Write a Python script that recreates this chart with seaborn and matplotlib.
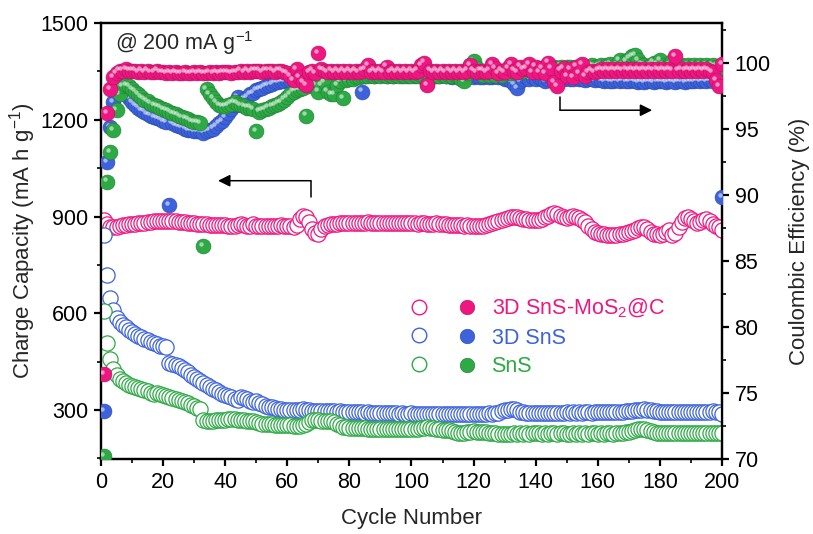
import numpy as np
import pandas as pd
import matplotlib
matplotlib.use('Agg')
import matplotlib.pyplot as plt
import seaborn as sns
from matplotlib.lines import Line2D
from matplotlib.ticker import MultipleLocator
from matplotlib.transforms import ScaledTranslation

# --- data (cycle 1..200) ---
cycles = list(range(1, 201))

cap_mc = [888, 876, 866, 866, 869, 871, 873, 874, 876, 877,
          878, 879, 880, 881, 882, 884, 885, 886, 886, 887,
          887, 886, 886, 885, 884, 883, 882, 881, 880, 879,
          878, 877, 876, 876, 875, 875, 874, 874, 873, 873,
          872, 872, 871, 873, 878, 874, 872, 871, 877, 872,
          871, 870, 871, 872, 871, 870, 871, 873, 872, 871,
          870, 869, 874, 893, 902, 899, 884, 861, 850, 847,
          862, 870, 874, 876, 878, 878, 879, 880, 880, 881,
          881, 880, 879, 880, 881, 882, 881, 880, 881, 880,
          881, 880, 879, 880, 881, 880, 879, 880, 881, 880,
          879, 878, 879, 880, 878, 877, 878, 879, 877, 876,
          876, 875, 874, 875, 874, 873, 872, 873, 872, 871,
          870, 871, 872, 874, 876, 879, 883, 887, 890, 893,
          896, 898, 899, 897, 895, 893, 891, 890, 889, 888,
          889, 892, 897, 903, 909, 911, 907, 902, 898, 896,
          899, 902, 900, 896, 890, 882, 872, 862, 853, 848,
          846, 845, 844, 843, 842, 843, 845, 847, 849, 851,
          854, 858, 863, 868, 866, 860, 852, 847, 845, 844,
          846, 852, 858, 842, 848, 866, 882, 895, 899, 893,
          886, 880, 882, 888, 891, 886, 878, 871, 866, 858]

cap_3d = [843, 718, 648, 610, 586, 574, 565, 556, 548, 541,
          535, 530, 525, 520, 516, 512, 508, 504, 500, 497,
          495, 447, 442, 440, 436, 431, 425, 418, 410, 403,
          396, 390, 384, 378, 372, 366, 361, 356, 351, 347,
          343, 339, 335, 332, 340, 336, 333, 329, 326, 327,
          322, 318, 313, 310, 308, 305, 303, 302, 301, 301,
          300, 300, 299, 300, 302, 300, 299, 298, 298, 297,
          297, 298, 296, 297, 296, 295, 296, 295, 294, 295,
          294, 293, 294, 293, 292, 293, 292, 291, 292, 291,
          291, 290, 291, 290, 290, 289, 290, 289, 289, 290,
          289, 288, 289, 288, 289, 288, 287, 288, 288, 287,
          288, 287, 288, 287, 287, 288, 287, 288, 287, 288,
          288, 289, 288, 289, 290, 289, 290, 292, 296, 299,
          301, 303, 304, 299, 295, 293, 292, 291, 292, 291,
          292, 291, 292, 291, 292, 292, 291, 292, 292, 293,
          292, 293, 292, 293, 292, 293, 293, 292, 293, 293,
          293, 294, 293, 294, 294, 295, 294, 295, 296, 297,
          298, 299, 300, 301, 302, 301, 299, 297, 296, 295,
          295, 294, 295, 294, 295, 294, 294, 295, 294, 295,
          294, 295, 294, 295, 294, 295, 296, 295, 293, 288]

cap_sns = [606, 508, 459, 428, 408, 396, 389, 383, 378, 374,
           370, 367, 364, 361, 358, 354, 350, 352, 349, 345,
           342, 339, 337, 334, 331, 328, 325, 321, 316, 311,
           306, 302, 268, 265, 266, 267, 268, 268, 269, 270,
           271, 272, 271, 270, 269, 268, 267, 266, 265, 262,
           259, 258, 258, 257, 256, 255, 254, 254, 253, 252,
           252, 251, 251, 250, 252, 258, 264, 268, 269, 268,
           267, 266, 265, 266, 264, 258, 252, 248, 246, 245,
           245, 244, 244, 243, 243, 242, 242, 241, 241, 241,
           240, 240, 241, 240, 240, 241, 240, 240, 241, 241,
           241, 242, 243, 244, 247, 245, 243, 241, 240, 239,
           238, 237, 236, 232, 229, 229, 230, 232, 233, 234,
           233, 232, 232, 231, 230, 229, 228, 227, 226, 226,
           227, 227, 228, 227, 228, 227, 228, 227, 228, 228,
           228, 227, 228, 227, 228, 228, 227, 228, 228, 227,
           227, 228, 227, 228, 227, 228, 227, 228, 228, 227,
           228, 227, 228, 228, 227, 228, 229, 230, 231, 233,
           236, 239, 241, 242, 241, 238, 234, 231, 230, 230,
           229, 230, 229, 230, 229, 230, 229, 230, 230, 229,
           230, 229, 230, 229, 230, 230, 229, 230, 230, 229]

ce_mc = [76.4, 96.2, 98.0, 98.9, 99.2, 99.4, 99.4, 99.5, 99.4, 99.4,
         99.4, 99.3, 99.4, 99.3, 99.4, 99.3, 99.3, 99.4, 99.3, 99.3,
         99.2, 99.3, 99.2, 99.3, 99.2, 99.2, 99.3, 99.2, 99.2, 99.3,
         99.2, 99.3, 99.2, 99.2, 99.3, 99.2, 99.3, 99.2, 99.3, 99.3,
         99.3, 99.2, 99.3, 99.3, 99.4, 99.3, 99.4, 99.3, 99.4, 99.4,
         99.4, 99.3, 99.4, 99.4, 99.4, 99.3, 99.4, 99.4, 99.3, 99.2,
         99.0, 98.7, 99.5, 98.9, 98.5, 98.3, 99.3, 99.4, 99.2, 100.7,
         99.5, 99.4, 99.3, 99.4, 99.3, 99.4, 99.3, 99.4, 99.3, 99.4,
         99.3, 99.4, 99.3, 99.4, 99.5, 99.8, 99.3, 99.4, 99.3, 99.4,
         99.3, 99.7, 99.3, 99.4, 99.3, 99.4, 99.3, 99.4, 99.3, 99.4,
         99.3, 99.4, 99.8, 100.0, 98.3, 99.4, 99.3, 99.4, 99.3, 99.4,
         99.3, 99.4, 99.3, 99.4, 99.3, 99.4, 99.3, 99.4, 99.8, 99.4,
         99.3, 99.4, 99.4, 99.3, 99.4, 99.9, 99.6, 99.2, 99.4, 99.3,
         99.6, 99.9, 99.4, 99.3, 99.7, 99.5, 99.6, 99.9, 99.3, 99.7,
         99.3, 99.6, 99.2, 100.0, 99.6, 98.5, 98.2, 99.4, 99.6, 99.0,
         99.5, 98.9, 99.7, 99.2, 99.9, 99.0, 99.3, 99.4, 99.3, 99.4,
         99.5, 99.4, 99.5, 99.4, 99.5, 99.4, 99.5, 99.4, 99.5, 99.4,
         99.5, 99.4, 99.5, 99.4, 99.5, 99.4, 99.5, 99.4, 99.5, 99.4,
         99.5, 99.4, 99.5, 99.4, 100.5, 99.4, 99.5, 99.4, 99.5, 99.4,
         99.5, 99.4, 99.5, 99.4, 99.5, 99.4, 99.3, 98.7, 98.2, 99.9]

ce_3d = [73.6, 92.5, 95.1, 97.0, 98.0, 98.3, 98.0, 97.6, 97.3, 97.0,
         96.8, 96.6, 96.4, 96.3, 96.1, 96.0, 95.9, 95.8, 95.7, 95.6,
         95.5, 89.2, 95.4, 95.3, 95.2, 95.1, 95.0, 94.9, 94.9, 94.8,
         94.8, 94.8, 94.7, 94.8, 94.9, 95.0, 95.2, 95.4, 95.6, 95.9,
         96.2, 96.5, 96.8, 97.4, 97.0, 97.2, 97.4, 97.6, 97.7, 97.9,
         98.0, 98.1, 98.2, 98.3, 98.4, 98.5, 98.5, 98.6, 98.6, 98.7,
         98.7, 98.7, 98.8, 98.8, 98.8, 98.8, 98.9, 98.9, 98.9, 98.9,
         99.0, 98.9, 99.0, 99.0, 99.0, 98.9, 99.0, 99.0, 99.1, 99.0,
         99.1, 99.0, 99.1, 97.8, 99.0, 99.1, 99.1, 99.0, 99.1, 99.1,
         99.1, 99.0, 99.1, 99.0, 99.1, 99.1, 99.0, 99.1, 99.0, 99.1,
         99.0, 99.1, 99.0, 99.1, 99.0, 99.0, 99.1, 99.0, 99.0, 99.1,
         99.0, 99.0, 98.9, 99.0, 99.0, 98.9, 99.0, 98.9, 99.0, 98.9,
         99.0, 98.9, 98.9, 99.0, 98.9, 98.9, 99.0, 98.9, 98.9, 98.8,
         98.8, 98.6, 98.4, 98.1, 98.6, 98.8, 98.9, 98.8, 98.9, 98.8,
         98.9, 98.8, 98.6, 98.8, 98.9, 98.8, 98.9, 98.8, 98.8, 98.9,
         98.8, 98.8, 98.9, 98.8, 98.8, 98.7, 98.8, 98.8, 98.7, 98.8,
         98.7, 98.6, 98.7, 98.6, 98.6, 98.7, 98.6, 98.7, 98.6, 98.6,
         98.7, 98.6, 98.5, 98.6, 98.5, 98.6, 98.6, 98.5, 98.6, 98.6,
         98.6, 98.5, 98.6, 98.6, 98.5, 98.6, 98.6, 98.5, 98.6, 98.6,
         98.6, 98.7, 98.6, 98.7, 98.6, 98.7, 98.6, 98.7, 98.6, 89.8]

ce_sns = [70.2, 91.0, 93.2, 94.9, 96.4, 97.6, 98.2, 98.3, 98.2, 98.0,
          97.8, 97.6, 97.4, 97.2, 97.1, 96.9, 96.8, 96.7, 96.6, 96.5,
          96.4, 96.3, 96.2, 96.1, 96.0, 95.9, 95.8, 95.7, 95.6, 95.5,
          95.5, 95.4, 86.1, 98.0, 97.6, 97.3, 97.0, 96.8, 96.7, 96.7,
          96.8, 96.9, 97.0, 96.9, 96.8, 96.7, 96.6, 96.6, 96.5, 94.8,
          96.3, 96.4, 96.5, 96.6, 96.7, 96.8, 96.9, 97.0, 97.2, 97.4,
          97.6, 97.8, 97.9, 98.0, 98.1, 96.0, 98.2, 98.3, 98.3, 97.8,
          98.3, 98.5, 97.8, 97.6, 97.6, 98.3, 98.6, 97.3, 98.7, 98.8,
          98.8, 98.9, 98.9, 99.0, 99.0, 99.0, 99.1, 99.0, 99.1, 99.0,
          99.1, 99.0, 99.1, 99.0, 99.1, 99.0, 99.1, 99.0, 99.1, 99.0,
          99.1, 99.0, 99.1, 99.0, 98.4, 99.1, 99.0, 99.1, 99.0, 99.1,
          99.0, 99.1, 99.0, 99.1, 99.0, 98.8, 98.6, 99.2, 99.8, 100.1,
          99.6, 99.2, 99.1, 99.2, 99.1, 99.2, 99.1, 99.2, 99.1, 99.2,
          99.3, 99.2, 99.3, 99.3, 99.3, 99.4, 99.5, 99.6, 99.4, 99.6,
          99.5, 99.6, 99.6, 99.7, 99.6, 99.7, 99.6, 99.7, 99.6, 99.7,
          99.7, 99.6, 99.7, 99.7, 99.6, 99.7, 99.7, 99.8, 99.7, 99.7,
          99.8, 99.7, 99.8, 99.9, 99.7, 99.8, 100.2, 99.8, 100.1, 100.3,
          100.5, 100.6, 100.2, 99.9, 99.8, 99.7, 99.8, 100.0, 99.9, 100.2,
          99.8, 99.7, 99.8, 100.1, 99.8, 99.7, 99.8, 99.7, 99.8, 99.7,
          99.8, 99.7, 99.8, 99.7, 99.8, 99.7, 99.8, 99.7, 99.6, 99.7]

samples = ['3D SnS-MoS$_2$@C', '3D SnS', 'SnS']
colors = ['#EE1781', '#3D63DC', '#2DAA45']
edge_dark = ['#B80F60', '#2A48A8', '#1F7E33']

df = pd.DataFrame({
    'cycle': cycles * 3,
    'capacity': cap_mc + cap_3d + cap_sns,
    'ce': ce_mc + ce_3d + ce_sns,
    'sample': np.repeat(samples, len(cycles)),
})

# --- style ---
sns.set_theme(style='ticks')
plt.rcParams['font.family'] = ['Liberation Sans', 'DejaVu Sans']
plt.rcParams['mathtext.fontset'] = 'custom'
plt.rcParams['mathtext.rm'] = 'Liberation Sans'
plt.rcParams['mathtext.it'] = 'Liberation Sans:italic'
plt.rcParams['mathtext.default'] = 'regular'

FS = 15.5

fig = plt.figure(figsize=(8.13, 5.34), dpi=100)
ax = fig.add_axes([0.1242, 0.1404, 0.7639, 0.8165])
ax2 = ax.twinx()

# capacity: open circles (left axis)
for name, col in zip(samples, colors):
    sub = df[df['sample'] == name]
    sns.scatterplot(data=sub, x='cycle', y='capacity', ax=ax, color=col,
                    facecolor='white', edgecolor=col, s=120, linewidth=0.9,
                    legend=False, zorder=3)

# coulombic efficiency: filled "spheres" (right axis), pink on top
shine = ax2.transData + ScaledTranslation(-1.6 / 72, 1.6 / 72, fig.dpi_scale_trans)
for idx in [1, 2, 0]:
    sub = df[df['sample'] == samples[idx]]
    sns.scatterplot(data=sub, x='cycle', y='ce', ax=ax2, color=colors[idx],
                    edgecolor=edge_dark[idx], s=115, linewidth=0.4,
                    legend=False, zorder=3)
    ax2.scatter(sub['cycle'], sub['ce'], s=10, color='white', alpha=0.55,
                linewidths=0, transform=shine, zorder=3)

ax.set_xlim(0, 200)
ax.set_ylim(148, 1500)
ax2.set_ylim(70, 103)

ax.xaxis.set_major_locator(MultipleLocator(20))
ax.xaxis.set_minor_locator(MultipleLocator(10))
ax.yaxis.set_major_locator(MultipleLocator(300))
ax.yaxis.set_minor_locator(MultipleLocator(150))
ax2.yaxis.set_major_locator(MultipleLocator(5))
ax2.yaxis.set_minor_locator(MultipleLocator(2.5))

for a in (ax, ax2):
    a.tick_params(which='major', direction='out', length=5, width=1.6,
                  labelsize=FS, pad=4, colors='black')
    a.tick_params(which='minor', direction='out', length=3, width=1.4)
    for sp in a.spines.values():
        sp.set_linewidth(1.6)
        sp.set_color('black')
ax.tick_params(which='both', top=False, right=False)
ax2.tick_params(which='both', left=False, top=False)

ax.set_xlabel('Cycle Number', fontsize=16, labelpad=11.5)
ax.set_ylabel('Charge Capacity (mA h g$^{-1}$)', fontsize=16, labelpad=1.5)
ax2.set_ylabel('Coulombic Efficiency (%)', fontsize=16, labelpad=13.5)

ax.text(0.022, 0.955, '@ 200 mA g$^{-1}$', transform=ax.transAxes,
        fontsize=FS, va='center', ha='left')

# arrows pointing to the relevant axis
ax.plot([67.6, 67.6], [962, 1011], color='black', lw=1.1, zorder=4)
ax.annotate('', xy=(37.7, 1011), xytext=(67.6, 1011),
            arrowprops=dict(arrowstyle='-|>', color='black', lw=1.1,
                            mutation_scale=18, shrinkA=0, shrinkB=0))
ax2.plot([147.8, 147.8], [97.4, 96.4], color='black', lw=1.1, zorder=4)
ax2.annotate('', xy=(177.5, 96.4), xytext=(147.8, 96.4),
             arrowprops=dict(arrowstyle='-|>', color='black', lw=1.1,
                             mutation_scale=18, shrinkA=0, shrinkB=0))

# legend: open column + filled column
handles = []
for col in colors:
    handles.append(Line2D([], [], ls='none', marker='o', markersize=10.5,
                          markerfacecolor='white', markeredgecolor=col,
                          markeredgewidth=1.0))
for col, dk in zip(colors, edge_dark):
    handles.append(Line2D([], [], ls='none', marker='o', markersize=10.5,
                          markerfacecolor=col, markeredgecolor=dk,
                          markeredgewidth=0.4))
labels = ['', '', ''] + samples
leg = ax2.legend(handles, labels, ncol=2, loc='upper left',
                 bbox_to_anchor=(0.494, 0.372), frameon=False, fontsize=FS,
                 handlelength=1.0, handletextpad=0.66, columnspacing=0.57,
                 labelspacing=0.35, borderpad=0, borderaxespad=0)
for txt, col in zip(leg.get_texts()[3:], colors):
    txt.set_color(col)

plt.savefig('out.png', dpi=100)
